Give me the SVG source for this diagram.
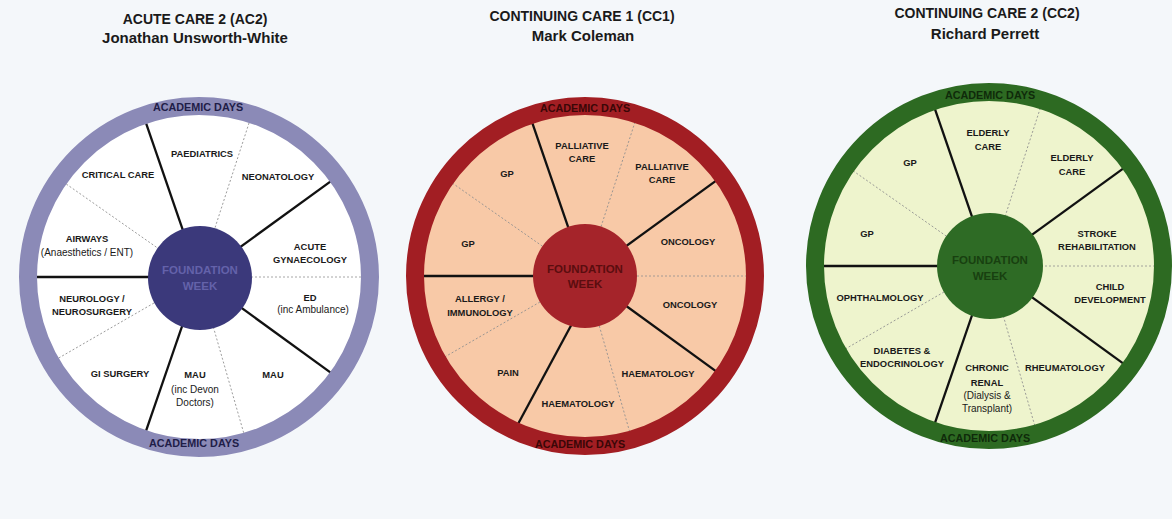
<svg xmlns="http://www.w3.org/2000/svg" width="1172" height="519" viewBox="0 0 1172 519">
<style>
text{font-family:"Liberation Sans",Arial,sans-serif;text-anchor:middle;fill:#1a1a1a}
.t{font-size:14px;font-weight:bold}
.s{font-size:15px;font-weight:bold}
.l{font-size:9.4px;font-weight:bold}
.r{font-size:10px}
.ad{font-size:10.8px;font-weight:bold}
.fw{font-size:11.5px;font-weight:bold}
.solid{stroke:#111;stroke-width:2.3;fill:none}
.dot{stroke:#8f8f8f;stroke-width:0.8;stroke-dasharray:2 2;fill:none}
</style>
<rect width="1172" height="519" fill="#f4f7fa"/>

<!-- Titles -->
<g id="title-ac2"><text class="t" x="195" y="24">ACUTE CARE 2 (AC2)</text><text class="s" x="195" y="43">Jonathan Unsworth-White</text></g>
<g id="title-cc1"><text class="t" x="582" y="21">CONTINUING CARE 1 (CC1)</text><text class="s" x="583" y="41">Mark Coleman</text></g>
<g id="title-cc2"><text class="t" x="987" y="18">CONTINUING CARE 2 (CC2)</text><text class="s" x="985" y="39">Richard Perrett</text></g>

<!-- Wheel 1 -->
<g id="wheel-ac2">
<circle cx="199" cy="277" r="171" fill="#ffffff"/>
<g id="dividers-ac2">
<line class="solid" x1="0" y1="0" x2="0" y2="-164" transform="translate(199 277) rotate(-19)"/>
<line class="solid" x1="0" y1="0" x2="0" y2="-164" transform="translate(199 277) rotate(54)"/>
<line class="solid" x1="0" y1="0" x2="0" y2="-164" transform="translate(199 277) rotate(126)"/>
<line class="solid" x1="0" y1="0" x2="0" y2="-164" transform="translate(199 277) rotate(199)"/>
<line class="solid" x1="0" y1="0" x2="0" y2="-164" transform="translate(199 277) rotate(270)"/>
<line class="dot" x1="0" y1="0" x2="0" y2="-164" transform="translate(199 277) rotate(18)"/>
<line class="dot" x1="0" y1="0" x2="0" y2="-164" transform="translate(199 277) rotate(90)"/>
<line class="dot" x1="0" y1="0" x2="0" y2="-164" transform="translate(199 277) rotate(164)"/>
<line class="dot" x1="0" y1="0" x2="0" y2="-164" transform="translate(199 277) rotate(240)"/>
<line class="dot" x1="0" y1="0" x2="0" y2="-164" transform="translate(199 277) rotate(305)"/>
</g>
<circle cx="199" cy="277" r="171" fill="none" stroke="#8b8ab7" stroke-width="18"/>
<g id="ac2-center"><circle cx="200" cy="278" r="52" fill="#3b397b"/>
<text class="fw" x="200" y="274" style="fill:#6462aa">FOUNDATION</text><text class="fw" x="200" y="290" style="fill:#6462aa">WEEK</text></g>
<g id="ac2-academic-top"><text class="ad" x="198" y="111" style="fill:#1f1d48">ACADEMIC DAYS</text></g>
<g id="ac2-academic-bottom"><text class="ad" x="194" y="447" style="fill:#1f1d48">ACADEMIC DAYS</text></g>
<g id="ac2-paediatrics"><text class="l" x="202" y="156.5">PAEDIATRICS</text></g>
<g id="ac2-critical-care"><text class="l" x="118" y="177.5">CRITICAL CARE</text></g>
<g id="ac2-neonatology"><text class="l" x="278" y="179.5">NEONATOLOGY</text></g>
<g id="ac2-airways"><text class="l" x="87" y="241.5">AIRWAYS</text><text class="r" x="87" y="255.5">(Anaesthetics / ENT)</text></g>
<g id="ac2-acute-gynae"><text class="l" x="310" y="249.5">ACUTE</text><text class="l" x="310" y="262.5">GYNAECOLOGY</text></g>
<g id="ac2-neuro"><text class="l" x="92" y="301.5">NEUROLOGY /</text><text class="l" x="92" y="314.5">NEUROSURGERY</text></g>
<g id="ac2-ed"><text class="l" x="310" y="300.5">ED</text><text class="r" x="313" y="312.5">(inc Ambulance)</text></g>
<g id="ac2-gi-surgery"><text class="l" x="120" y="376.5">GI SURGERY</text></g>
<g id="ac2-mau-devon"><text class="l" x="195" y="377.5">MAU</text><text class="r" x="195" y="392.5">(inc Devon</text><text class="r" x="195" y="405.5">Doctors)</text></g>
<g id="ac2-mau"><text class="l" x="273" y="377.5">MAU</text></g>
</g>

<!-- Wheel 2 -->
<g id="wheel-cc1">
<circle cx="585" cy="276" r="170" fill="#f8c9a7"/>
<g id="dividers-cc1">
<line class="solid" x1="0" y1="0" x2="0" y2="-163" transform="translate(585 276) rotate(-19)"/>
<line class="solid" x1="0" y1="0" x2="0" y2="-163" transform="translate(585 276) rotate(54)"/>
<line class="solid" x1="0" y1="0" x2="0" y2="-163" transform="translate(585 276) rotate(126)"/>
<line class="solid" x1="574" y1="320" x2="518" y2="424"/>
<line class="solid" x1="0" y1="0" x2="0" y2="-163" transform="translate(585 276) rotate(270)"/>
<line class="dot" x1="0" y1="0" x2="0" y2="-163" transform="translate(585 276) rotate(18)"/>
<line class="dot" x1="0" y1="0" x2="0" y2="-163" transform="translate(585 276) rotate(90)"/>
<line class="dot" x1="0" y1="0" x2="0" y2="-163" transform="translate(585 276) rotate(164)"/>
<line class="dot" x1="0" y1="0" x2="0" y2="-163" transform="translate(585 276) rotate(240)"/>
<line class="dot" x1="0" y1="0" x2="0" y2="-163" transform="translate(585 276) rotate(305)"/>
</g>
<circle cx="585" cy="276" r="170" fill="none" stroke="#a21e23" stroke-width="18"/>
<g id="cc1-center"><circle cx="585" cy="276" r="52" fill="#a5242a"/>
<text class="fw" x="585" y="273" style="fill:#5a0d0f">FOUNDATION</text><text class="fw" x="585" y="288" style="fill:#5a0d0f">WEEK</text></g>
<g id="cc1-academic-top"><text class="ad" x="585" y="112" style="fill:#3a0707">ACADEMIC DAYS</text></g>
<g id="cc1-academic-bottom"><text class="ad" x="580" y="448" style="fill:#3a0707">ACADEMIC DAYS</text></g>
<g id="cc1-palliative-1"><text class="l" x="582" y="148.5">PALLIATIVE</text><text class="l" x="582" y="161.5">CARE</text></g>
<g id="cc1-palliative-2"><text class="l" x="662" y="169.5">PALLIATIVE</text><text class="l" x="662" y="182.5">CARE</text></g>
<g id="cc1-gp-1"><text class="l" x="507" y="176.5">GP</text></g>
<g id="cc1-gp-2"><text class="l" x="468" y="246.5">GP</text></g>
<g id="cc1-oncology-1"><text class="l" x="688" y="244.5">ONCOLOGY</text></g>
<g id="cc1-allergy"><text class="l" x="480" y="301.5">ALLERGY /</text><text class="l" x="480" y="315.5">IMMUNOLOGY</text></g>
<g id="cc1-oncology-2"><text class="l" x="690" y="307.5">ONCOLOGY</text></g>
<g id="cc1-pain"><text class="l" x="508" y="375.5">PAIN</text></g>
<g id="cc1-haematology-1"><text class="l" x="658" y="376.5">HAEMATOLOGY</text></g>
<g id="cc1-haematology-2"><text class="l" x="578" y="406.5">HAEMATOLOGY</text></g>
</g>

<!-- Wheel 3 -->
<g id="wheel-cc2">
<circle cx="989" cy="266" r="174" fill="#eef4cd"/>
<g id="dividers-cc2">
<line class="solid" x1="0" y1="0" x2="0" y2="-167" transform="translate(989 266) rotate(-19)"/>
<line class="solid" x1="0" y1="0" x2="0" y2="-167" transform="translate(989 266) rotate(54)"/>
<line class="solid" x1="0" y1="0" x2="0" y2="-167" transform="translate(989 266) rotate(126)"/>
<line class="solid" x1="0" y1="0" x2="0" y2="-167" transform="translate(989 266) rotate(199)"/>
<line class="solid" x1="0" y1="0" x2="0" y2="-167" transform="translate(989 266) rotate(270)"/>
<line class="dot" x1="0" y1="0" x2="0" y2="-167" transform="translate(989 266) rotate(18)"/>
<line class="dot" x1="0" y1="0" x2="0" y2="-167" transform="translate(989 266) rotate(90)"/>
<line class="dot" x1="0" y1="0" x2="0" y2="-167" transform="translate(989 266) rotate(164)"/>
<line class="dot" x1="0" y1="0" x2="0" y2="-167" transform="translate(989 266) rotate(240)"/>
<line class="dot" x1="0" y1="0" x2="0" y2="-167" transform="translate(989 266) rotate(305)"/>
</g>
<circle cx="989" cy="266" r="174" fill="none" stroke="#2d6a22" stroke-width="18"/>
<g id="cc2-center"><circle cx="990" cy="266" r="53" fill="#2e6b25"/>
<text class="fw" x="990" y="264" style="fill:#184010">FOUNDATION</text><text class="fw" x="990" y="280" style="fill:#184010">WEEK</text></g>
<g id="cc2-academic-top"><text class="ad" x="990" y="99" style="fill:#0f2a0a">ACADEMIC DAYS</text></g>
<g id="cc2-academic-bottom"><text class="ad" x="985" y="442" style="fill:#0f2a0a">ACADEMIC DAYS</text></g>
<g id="cc2-elderly-1"><text class="l" x="988" y="135.5">ELDERLY</text><text class="l" x="988" y="149.5">CARE</text></g>
<g id="cc2-elderly-2"><text class="l" x="1072" y="160.5">ELDERLY</text><text class="l" x="1072" y="174.5">CARE</text></g>
<g id="cc2-gp-1"><text class="l" x="910" y="165.5">GP</text></g>
<g id="cc2-gp-2"><text class="l" x="867" y="236.5">GP</text></g>
<g id="cc2-stroke"><text class="l" x="1097" y="236.5">STROKE</text><text class="l" x="1097" y="249.5">REHABILITATION</text></g>
<g id="cc2-child"><text class="l" x="1110" y="289.5">CHILD</text><text class="l" x="1110" y="302.5">DEVELOPMENT</text></g>
<g id="cc2-ophthalmology"><text class="l" x="880" y="300.5">OPHTHALMOLOGY</text></g>
<g id="cc2-diabetes"><text class="l" x="902" y="353.5">DIABETES &amp;</text><text class="l" x="902" y="366.5">ENDOCRINOLOGY</text></g>
<g id="cc2-renal"><text class="l" x="987" y="370.5">CHRONIC</text><text class="l" x="987" y="385.5">RENAL</text><text class="r" x="987" y="398.5">(Dialysis &amp;</text><text class="r" x="987" y="411.5">Transplant)</text></g>
<g id="cc2-rheumatology"><text class="l" x="1065" y="370.5">RHEUMATOLOGY</text></g>
</g>
</svg>
